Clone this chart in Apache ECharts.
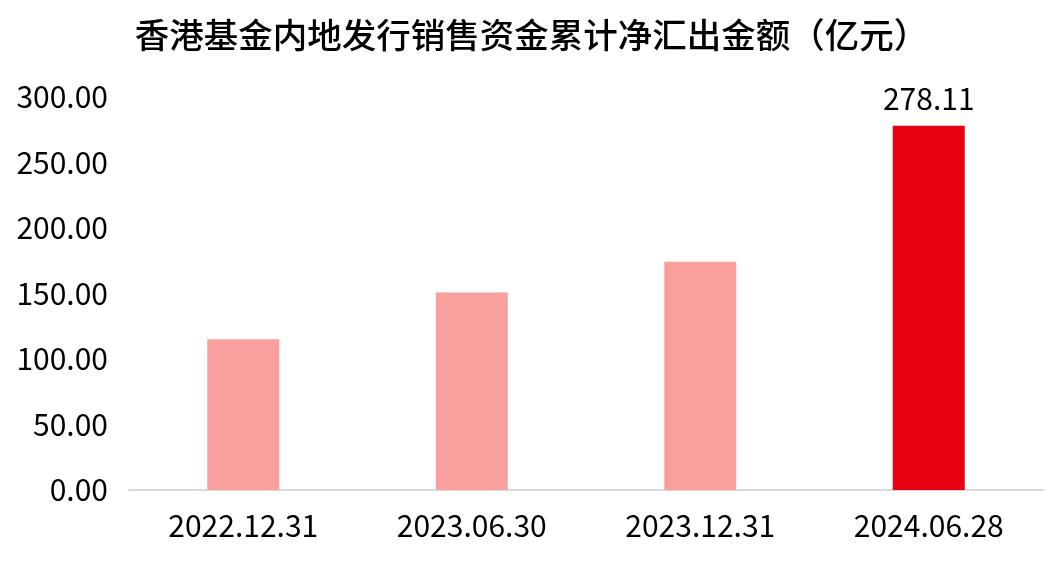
<!DOCTYPE html>
<html>
<head>
<meta charset="utf-8">
<script src="https://cdn.jsdelivr.net/npm/echarts@6/dist/echarts.min.js"></script>
<style>
  html, body { margin: 0; padding: 0; background: #fff; }
  #chart { width: 1063px; height: 563px; }
</style>
</head>
<body>
<div id="chart"></div>
<script>
// data
const categories = ['2022.12.31', '2023.06.30', '2023.12.31', '2024.06.28']
const values = [115.0, 150.8, 174.3, 278.11]
const yTicks = [0, 50, 100, 150, 200, 250, 300]

const FONT = '"Noto Sans CJK SC", "Noto Sans", sans-serif'
const lastIdx = values.length - 1

const chart = echarts.init(document.getElementById('chart'))

chart.setOption({
  animation: false,
  backgroundColor: '#fff',
  title: {
    text: '香港基金内地发行销售资金累计净汇出金额（亿元）',
    left: 'center',
    top: 13,
    textStyle: {
      fontFamily: FONT,
      fontSize: 34.5,
      fontWeight: 500,
      color: '#000',
    },
  },
  grid: {
    left: 129,
    right: 20,
    top: 97,
    bottom: 73,
  },
  xAxis: {
    type: 'category',
    data: categories,
    axisLine: { lineStyle: { color: '#d9d9d9', width: 2 } },
    axisTick: { show: false },
    axisLabel: {
      margin: 21,
      fontFamily: FONT,
      fontSize: 30,
      color: '#000',
    },
  },
  yAxis: {
    type: 'value',
    min: yTicks[0],
    max: yTicks[yTicks.length - 1],
    interval: 50,
    splitLine: { show: false },
    axisLine: { show: false },
    axisTick: { show: false },
    axisLabel: {
      margin: 21,
      fontFamily: FONT,
      fontSize: 30,
      color: '#000',
      formatter: (v) => v.toFixed(2),
    },
  },
  series: [
    {
      type: 'bar',
      data: values.map((v, i) => ({
        value: v,
        itemStyle: { color: i === lastIdx ? '#e60012' : '#f9a09e' },
        label: {
          show: i === lastIdx,
          position: 'top',
          distance: 12,
          fontFamily: FONT,
          fontSize: 30,
          color: '#000',
          formatter: (p) => p.value.toFixed(2),
        },
      })),
      barWidth: 72,
    },
  ],
})
</script>
</body>
</html>
